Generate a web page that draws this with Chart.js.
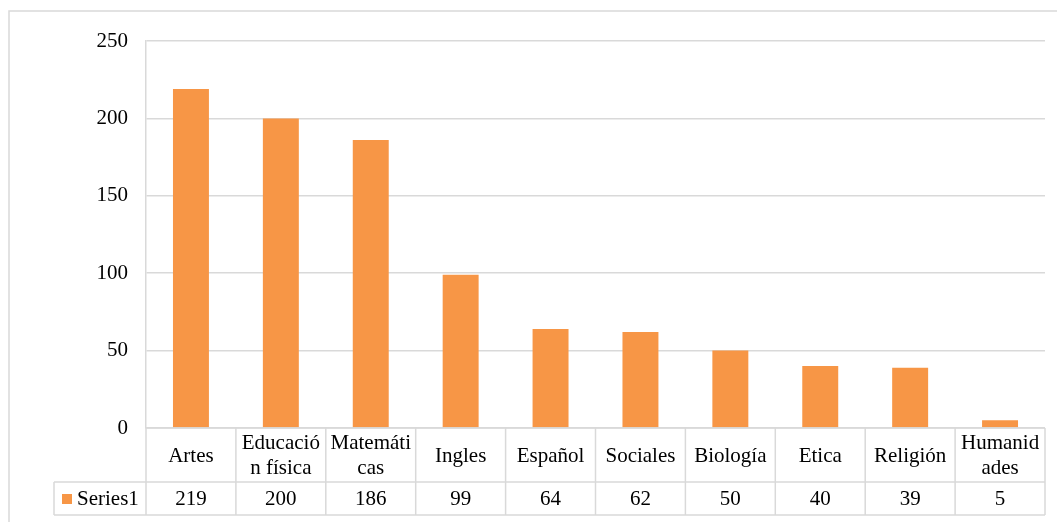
<!DOCTYPE html>
<html lang="es">
<head>
    <meta charset="UTF-8">
    <title>Series1</title>
    <script src="https://cdn.jsdelivr.net/npm/chart.js@4.4.1/dist/chart.umd.min.js"></script>
    <style>
        * { margin: 0; padding: 0; box-sizing: border-box; }
        body { background: #fff; width: 1057px; height: 522px; overflow: hidden; }
        #wrap { position: relative; width: 1057px; height: 522px; }
    </style>
</head>
<body>
    <div id="wrap"><canvas id="chart"></canvas></div>

    <script>
        // Data
        const categories = ['Artes', ['Educació', 'n física'], ['Matemáti', 'cas'], 'Ingles', 'Español',
            'Sociales', 'Biología', 'Etica', 'Religión', ['Humanid', 'ades']];
        const series1 = [219, 200, 186, 99, 64, 62, 50, 40, 39, 5];
        const yTicks = [0, 50, 100, 150, 200, 250];

        const orange = '#F79646';
        const lineGray = '#d9d9d9';
        const fontFam = '"Liberation Serif", "Times New Roman", serif';

        // draws the outer frame and the Excel style data table under the plot
        const dataTable = {
            id: 'dataTable',
            afterDraw(chart) {
                const ctx = chart.ctx;
                const x = chart.scales.x;
                const area = chart.chartArea;
                const n = categories.length;
                const step = (area.right - area.left) / n;
                const rowTop = area.bottom;
                const rowMid = rowTop + 54;
                const rowBot = rowMid + 33;
                const keyLeft = 54;

                ctx.save();
                ctx.strokeStyle = lineGray;
                ctx.lineWidth = 1.5;

                // outer frame
                ctx.beginPath();
                ctx.moveTo(9, 530);
                ctx.lineTo(9, 11);
                ctx.lineTo(1060, 11);
                ctx.stroke();

                // table grid
                ctx.beginPath();
                ctx.moveTo(area.left, rowTop);
                ctx.lineTo(area.right, rowTop);
                ctx.moveTo(keyLeft, rowMid);
                ctx.lineTo(area.right, rowMid);
                ctx.moveTo(keyLeft, rowBot);
                ctx.lineTo(area.right, rowBot);
                ctx.moveTo(keyLeft, rowMid);
                ctx.lineTo(keyLeft, rowBot);
                for (let i = 0; i <= n; i++) {
                    const xx = area.left + i * step;
                    ctx.moveTo(xx, rowTop);
                    ctx.lineTo(xx, rowBot);
                }
                ctx.stroke();

                ctx.fillStyle = '#000';
                ctx.font = '21px ' + fontFam;
                ctx.textAlign = 'center';
                ctx.textBaseline = 'middle';
                categories.forEach((c, i) => {
                    const cx = x.getPixelForValue(i);
                    const lines = Array.isArray(c) ? c : [c];
                    const lh = 25;
                    const cy = (rowTop + rowMid) / 2 + 1;
                    lines.forEach((ln, j) => {
                        ctx.fillText(ln, cx, cy + (j - (lines.length - 1) / 2) * lh);
                    });
                    ctx.fillText(String(series1[i]), cx, (rowMid + rowBot) / 2 + 1);
                });

                // legend key
                ctx.fillStyle = orange;
                ctx.fillRect(62, 494, 10, 10);
                ctx.fillStyle = '#000';
                ctx.textAlign = 'left';
                ctx.fillText('Series1', 77, (rowMid + rowBot) / 2 + 1);
                ctx.restore();
            }
        };

        new Chart(document.getElementById('chart'), {
            type: 'bar',
            data: {
                labels: categories,
                datasets: [{
                    label: 'Series1',
                    data: series1,
                    backgroundColor: orange,
                    borderWidth: 0,
                    categoryPercentage: 1,
                    barPercentage: 0.4
                }]
            },
            options: {
                responsive: true,
                maintainAspectRatio: false,
                animation: false,
                layout: { padding: { top: 41, right: 12, bottom: 94, left: 0 } },
                plugins: {
                    legend: { display: false },
                    tooltip: { enabled: false }
                },
                scales: {
                    x: { display: false },
                    y: {
                        min: 0,
                        max: 250,
                        afterFit(scale) { scale.width = 146; },
                        afterBuildTicks(scale) { scale.ticks = yTicks.map(v => ({ value: v })); },
                        border: { display: true, color: lineGray, width: 1.5 },
                        grid: { color: lineGray, lineWidth: 1.5, drawTicks: false },
                        ticks: {
                            padding: 18,
                            color: '#000',
                            font: { family: fontFam, size: 21 }
                        }
                    }
                }
            },
            plugins: [dataTable]
        });
    </script>
</body>
</html>
